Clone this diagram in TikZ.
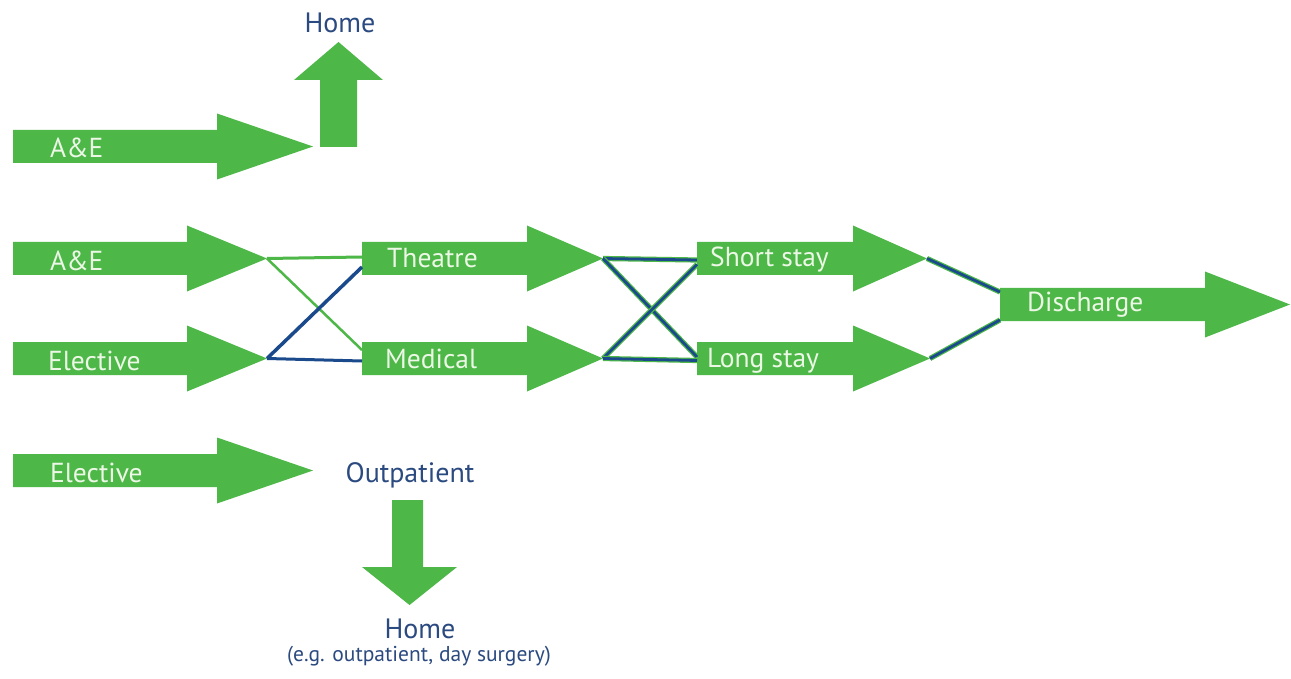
\documentclass[tikz,border=0pt]{standalone}
\usepackage{fontspec}
\setmainfont{PT Sans}
\usepackage{xcolor}
\usepackage{tikz}
\definecolor{flowgreen}{HTML}{4DB848}
\definecolor{labelwhite}{HTML}{ECF7E6}
\definecolor{textblue}{HTML}{2B4A80}
\definecolor{lineblue}{HTML}{1B4A8C}
\tikzset{
  arrowtext/.style={inner sep=0pt, text=labelwhite, font=\fontsize{27.5}{32}\selectfont, anchor=base west},
  bluetext/.style={inner sep=0pt, text=textblue, font=\fontsize{28}{32}\selectfont, anchor=base},
  notetext/.style={inner sep=0pt, text=textblue, font=\fontsize{21.5}{26}\selectfont, anchor=base},
  greenline/.style={draw=flowgreen, line width=3},
  blueline/.style={draw=lineblue, line width=3.5},
  twoline/.style={draw=flowgreen, double=lineblue, line width=1.2, double distance=2.8}
}

\begin{document}
\begin{tikzpicture}[x=1pt, y=-1pt]
        \useasboundingbox[fill=white] (0,0) rectangle (1291,679);

        % Define the block arrows: name/tail/head/tip/y/label x/label y/label
        \foreach \n/\xa/\xb/\xc/\y/\tx/\ty/\lab in {
          ae1/13/217/313/146.5/50/158/A\&E,
          ae2/13/187/267/258.5/50/270/A\&E,
          elec2/13/187/267/358.5/48/370/Elective,
          theatre/362/527/603/258.5/387/268/Theatre,
          medical/362/527/603/358.5/385/368/Medical,
          short/697/853/927/258.5/710/267/Short stay,
          long/697/853/930/358.5/707/367/Long stay,
          discharge/1000/1205/1290/304.5/1027/312/Discharge,
          elec3/13/217/313/470.5/50/482/Elective} {
          \fill[flowgreen] (\xa,\y-16.5) -- (\xb,\y-16.5) -- (\xb,\y-33) -- (\xc,\y)
            -- (\xb,\y+33) -- (\xb,\y+16.5) -- (\xa,\y+16.5) -- cycle;
          \coordinate (\n-tail) at (\xa,\y);
          \coordinate (\n-tip) at (\xc,\y);
          \node[arrowtext] (\n) at (\tx,\ty) {\lab};
        }

        % Up and down arrows
        \fill[flowgreen] (320,147) -- (320,80) -- (294,80) -- (338.5,42) -- (383,80) -- (357,80) -- (357,147) -- cycle;
        \fill[flowgreen] (392,500) -- (392,567) -- (362,567) -- (409.5,605) -- (457,567) -- (423,567) -- (423,500) -- cycle;

        % Blue labels
        \node[bluetext] (home1) at (340,33) {Home};
        \node[bluetext] (outpatient) at (410,482) {Outpatient};
        \node[bluetext] (home2) at (420,638) {Home};
        \node[notetext] (homenote) at (419,661) {(e.g. outpatient, day surgery)};

        % Draw the edges
        \draw[greenline] (ae2-tip) -- ([yshift=1.5pt]theatre-tail);
        \draw[greenline, line width=2.5] (ae2-tip) -- ([yshift=8.5pt]medical-tail);
        \draw[blueline] (elec2-tip) -- ([yshift=-8.5pt]theatre-tail);
        \draw[blueline, line width=3] (elec2-tip) -- ([yshift=-2.5pt]medical-tail);
        \draw[twoline] (theatre-tip) -- ([yshift=-1.5pt]short-tail);
        \draw[twoline] (theatre-tip) -- ([yshift=1.5pt]long-tail);
        \draw[twoline] (medical-tip) -- ([yshift=-6pt]short-tail);
        \draw[twoline] (medical-tip) -- ([yshift=-2pt]long-tail);
        \draw[twoline] (short-tip) -- ([yshift=12.5pt]discharge-tail);
        \draw[twoline] (long-tip) -- ([yshift=-15.5pt]discharge-tail);
    \end{tikzpicture}
\end{document}
